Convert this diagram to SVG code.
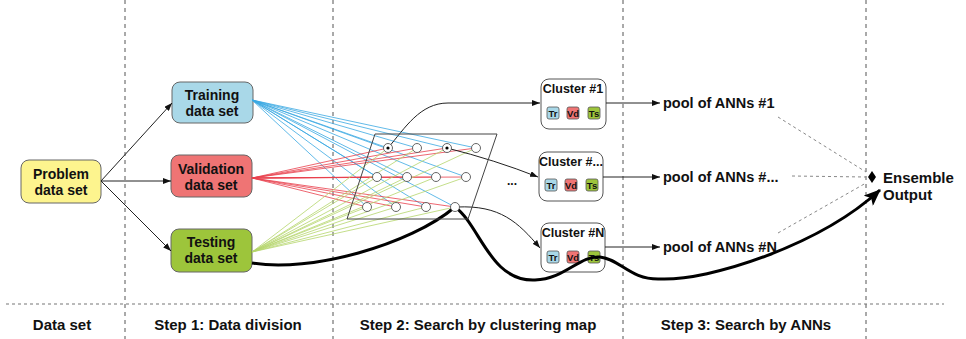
<svg xmlns="http://www.w3.org/2000/svg" width="966" height="339" viewBox="0 0 966 339">
<defs>
<style>
.t{font-family:"Liberation Sans",Arial,sans-serif;font-weight:bold;fill:#111}
.nt{font-size:14px;text-anchor:middle}
.lb{font-size:15px;text-anchor:middle}
.ct{font-size:12.5px;text-anchor:middle}
.sb{font-size:9.5px;text-anchor:middle}
.pl{font-size:14.5px}
.box{stroke:#666;stroke-width:1}
.cl{fill:#fff;stroke:#555;stroke-width:1}
.sm{stroke:#555;stroke-width:0.8}
.vd{stroke:#555;stroke-width:1;stroke-dasharray:4 4}
.hd{stroke:#777;stroke-width:1.2;stroke-dasharray:3 3}
.ar{fill:none;stroke:#222;stroke-width:1}
.bl{stroke:#3aa8e2;stroke-width:0.8}
.rd{stroke:#e8404c;stroke-width:0.8}
.gr{stroke:#b5d66c;stroke-width:0.8}
.nd{fill:#fff;stroke:#555;stroke-width:0.9}
.dt{fill:none;stroke:#888;stroke-width:1;stroke-dasharray:3 3}
</style>
<marker id="a" markerWidth="8" markerHeight="6" refX="8" refY="3" orient="auto" markerUnits="userSpaceOnUse"><path d="M0,0 L8,3 L0,6 z" fill="#111"/></marker>
<marker id="b" markerWidth="18" markerHeight="14" refX="16" refY="7" orient="auto" markerUnits="userSpaceOnUse"><path d="M0,0 L17,7 L0,14 L4,7 z" fill="#000"/></marker>
</defs>
<rect width="966" height="339" fill="#fff"/>

<g id="grid">
<line class="vd" x1="125" y1="0" x2="125" y2="339"/>
<line class="vd" x1="333" y1="0" x2="333" y2="339"/>
<line class="vd" x1="623" y1="0" x2="623" y2="339"/>
<line class="vd" x1="866" y1="0" x2="866" y2="339"/>
<line class="hd" x1="6" y1="304" x2="944" y2="304"/>
<text class="t lb" x="62" y="330">Data set</text>
<text class="t lb" x="228" y="330">Step 1: Data division</text>
<text class="t lb" x="478" y="330">Step 2: Search by clustering map</text>
<text class="t lb" x="746" y="330">Step 3: Search by ANNs</text>
</g>

<g id="problem">
<rect class="box" x="21" y="160" width="80" height="43" rx="8" fill="#fdf48e"/>
<text class="t nt" x="61" y="179">Problem</text>
<text class="t nt" x="61" y="195">data set</text>
</g>
<g id="training">
<rect class="box" x="172" y="82" width="81" height="41" rx="8" fill="#a9d8e8"/>
<text class="t nt" x="212" y="100">Training</text>
<text class="t nt" x="212" y="116">data set</text>
</g>
<g id="validation">
<rect class="box" x="171" y="155" width="81" height="42" rx="8" fill="#ef7474"/>
<text class="t nt" x="211" y="174">Validation</text>
<text class="t nt" x="211" y="190">data set</text>
</g>
<g id="testing">
<rect class="box" x="171" y="229" width="81" height="43" rx="8" fill="#9dc53b"/>
<text class="t nt" x="211" y="247">Testing</text>
<text class="t nt" x="211" y="263">data set</text>
</g>

<g id="cluster1">
<rect class="cl" x="541" y="79" width="65" height="50" rx="8"/>
<text class="t ct" x="573" y="93">Cluster #1</text>
<rect class="sm" x="547" y="107" width="12" height="12" rx="2" fill="#a9d8e8"/><text class="t sb" x="553" y="116.5">Tr</text>
<rect class="sm" x="567" y="107" width="12" height="12" rx="2" fill="#ef7474"/><text class="t sb" x="573" y="116.5">Vd</text>
<rect class="sm" x="588" y="107" width="12" height="12" rx="2" fill="#9dc53b"/><text class="t sb" x="594" y="116.5">Ts</text>
</g>
<g id="cluster2">
<rect class="cl" x="539" y="152" width="64" height="49" rx="8"/>
<text class="t ct" x="571" y="166">Cluster #...</text>
<rect class="sm" x="545" y="179" width="12" height="12" rx="2" fill="#a9d8e8"/><text class="t sb" x="551" y="188.5">Tr</text>
<rect class="sm" x="565" y="179" width="12" height="12" rx="2" fill="#ef7474"/><text class="t sb" x="571" y="188.5">Vd</text>
<rect class="sm" x="586" y="179" width="12" height="12" rx="2" fill="#9dc53b"/><text class="t sb" x="592" y="188.5">Ts</text>
</g>
<g id="clusterN">
<rect class="cl" x="541" y="223" width="64" height="49" rx="8"/>
<text class="t ct" x="573" y="237">Cluster #N</text>
<rect class="sm" x="547" y="251" width="12" height="12" rx="2" fill="#a9d8e8"/><text class="t sb" x="553" y="260.5">Tr</text>
<rect class="sm" x="567" y="251" width="12" height="12" rx="2" fill="#ef7474"/><text class="t sb" x="573" y="260.5">Vd</text>
<rect class="sm" x="588" y="251" width="12" height="12" rx="2" fill="#9dc53b"/><text class="t sb" x="594" y="260.5">Ts</text>
</g>

<g id="pool1"><text class="t pl" x="663" y="108">pool of ANNs #1</text></g>
<g id="pool2"><text class="t pl" x="663" y="182">pool of ANNs #...</text></g>
<g id="poolN"><text class="t pl" x="663" y="252">pool of ANNs #N</text></g>

<g id="ensemble">
<path d="M872,171 L876,177 L872,183 L868,177 z" fill="#000"/>
<text class="t" x="883" y="183" font-size="15">Ensemble</text>
<text class="t" x="883" y="200" font-size="15">Output</text>
</g>

<g id="connectors">
<g id="fan-blue">
<line class="bl" x1="252" y1="100" x2="388" y2="148"/><line class="bl" x1="252" y1="100" x2="417" y2="148"/><line class="bl" x1="252" y1="100" x2="447" y2="148"/><line class="bl" x1="252" y1="100" x2="476" y2="148"/>
<line class="bl" x1="252" y1="100" x2="377" y2="177"/><line class="bl" x1="252" y1="100" x2="407" y2="177"/><line class="bl" x1="252" y1="100" x2="436" y2="177"/><line class="bl" x1="252" y1="100" x2="466" y2="177"/>
<line class="bl" x1="252" y1="100" x2="367" y2="207"/><line class="bl" x1="252" y1="100" x2="396" y2="207"/><line class="bl" x1="252" y1="100" x2="426" y2="207"/><line class="bl" x1="252" y1="100" x2="455" y2="207"/>
</g>
<g id="fan-red">
<line class="rd" x1="252" y1="178" x2="388" y2="148"/><line class="rd" x1="252" y1="178" x2="417" y2="148"/><line class="rd" x1="252" y1="178" x2="447" y2="148"/><line class="rd" x1="252" y1="178" x2="476" y2="148"/>
<line class="rd" x1="252" y1="178" x2="377" y2="177"/><line class="rd" x1="252" y1="178" x2="407" y2="177"/><line class="rd" x1="252" y1="178" x2="436" y2="177"/><line class="rd" x1="252" y1="178" x2="466" y2="177"/>
<line class="rd" x1="252" y1="178" x2="367" y2="207"/><line class="rd" x1="252" y1="178" x2="396" y2="207"/><line class="rd" x1="252" y1="178" x2="426" y2="207"/><line class="rd" x1="252" y1="178" x2="455" y2="207"/>
</g>
<g id="fan-green">
<line class="gr" x1="252" y1="252" x2="388" y2="148"/><line class="gr" x1="252" y1="252" x2="417" y2="148"/><line class="gr" x1="252" y1="252" x2="447" y2="148"/><line class="gr" x1="252" y1="252" x2="476" y2="148"/>
<line class="gr" x1="252" y1="252" x2="377" y2="177"/><line class="gr" x1="252" y1="252" x2="407" y2="177"/><line class="gr" x1="252" y1="252" x2="436" y2="177"/><line class="gr" x1="252" y1="252" x2="466" y2="177"/>
<line class="gr" x1="252" y1="252" x2="367" y2="207"/><line class="gr" x1="252" y1="252" x2="396" y2="207"/><line class="gr" x1="252" y1="252" x2="426" y2="207"/><line class="gr" x1="252" y1="252" x2="455" y2="207"/>
</g>
<path class="ar" d="M101,181 L172,103" marker-end="url(#a)"/>
<path class="ar" d="M101,181 L171,181" marker-end="url(#a)"/>
<path class="ar" d="M101,181 L171,251" marker-end="url(#a)"/>
<path class="ar" d="M388,148 C405,128 420,103 448,103 L540,103" marker-end="url(#a)"/>
<path class="ar" d="M447,148 Q495,160 538,177" marker-end="url(#a)"/>
<path class="ar" d="M457,207 C500,205 518,222 540,248" marker-end="url(#a)"/>
<path class="ar" d="M606,103 L660,103" marker-end="url(#a)"/>
<path class="ar" d="M603,177 L660,177" marker-end="url(#a)"/>
<path class="ar" d="M605,247 L660,247" marker-end="url(#a)"/>
<path class="dt" d="M778,117 L866,172"/>
<path class="dt" d="M792,176 L866,177"/>
<path class="dt" d="M778,233 L866,183"/>
<path fill="none" stroke="#000" stroke-width="3" d="M252,263 C310,273 410,245 455,207 C480,225 490,282 535,280 C565,279 580,255 600,257 C620,259 630,280 660,279 C710,281 820,245 880,190" marker-end="url(#b)"/>
</g>

<g id="map">
<polygon points="375,134 497,134 468,219 347,219" fill="none" stroke="#444" stroke-width="1"/>
<circle class="nd" cx="388" cy="148" r="4.5"/><circle class="nd" cx="417" cy="148" r="4.5"/><circle class="nd" cx="447" cy="148" r="4.5"/><circle class="nd" cx="476" cy="148" r="4.5"/>
<circle class="nd" cx="377" cy="177" r="4.5"/><circle class="nd" cx="407" cy="177" r="4.5"/><circle class="nd" cx="436" cy="177" r="4.5"/><circle class="nd" cx="466" cy="177" r="4.5"/>
<circle class="nd" cx="367" cy="207" r="4.5"/><circle class="nd" cx="396" cy="207" r="4.5"/><circle class="nd" cx="426" cy="207" r="4.5"/><circle class="nd" cx="455" cy="207" r="4.5"/>
<circle cx="388" cy="148" r="1.6" fill="#000"/><circle cx="447" cy="148" r="1.6" fill="#000"/>
<text class="t" x="512" y="185" font-size="12" text-anchor="middle">...</text>
</g>
</svg>
